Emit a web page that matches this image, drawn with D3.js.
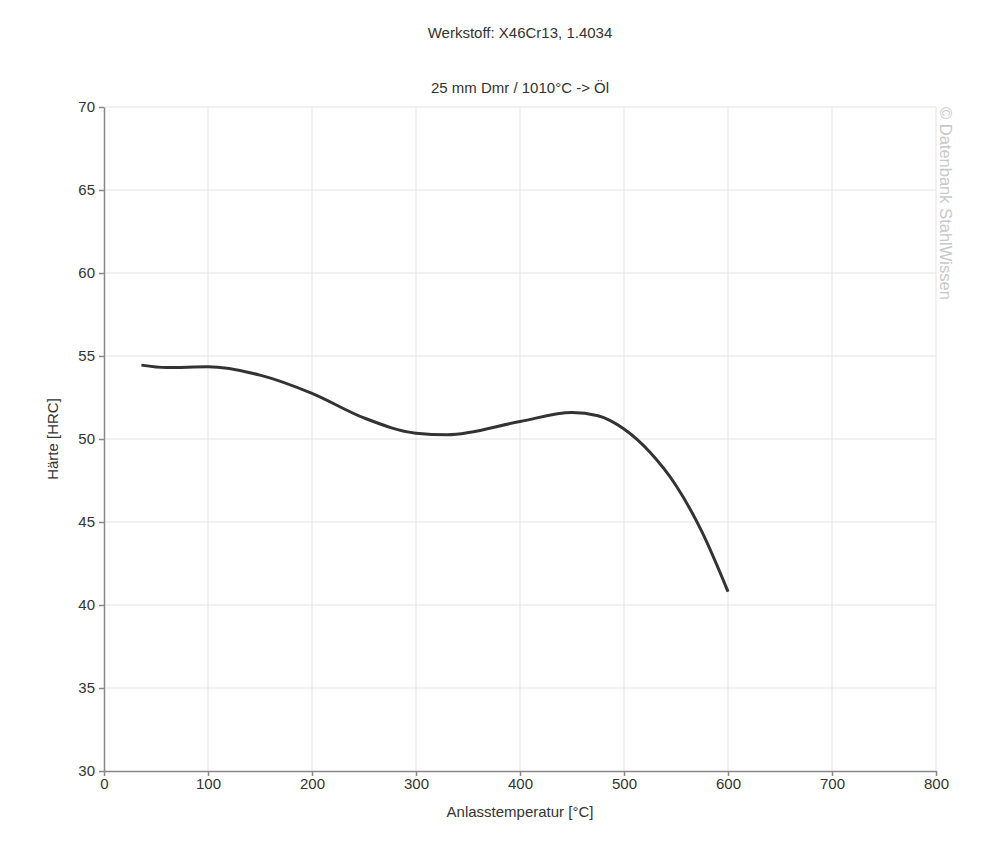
<!DOCTYPE html>
<html>
<head>
<meta charset="utf-8">
<script src="https://cdn.jsdelivr.net/npm/d3@7"></script>
<style>
  body { margin: 0; background: #fff; }
  text { font-family: "Liberation Sans", Arial, sans-serif; }
</style>
</head>
<body>
<div id="chart"></div>
<script>
// Anlasstemperatur [°C] vs Härte [HRC]
const temps = [36, 60, 100, 150, 200, 250, 300, 330, 400, 450, 475, 500, 525, 550, 575, 600];
const haerte = [54.45, 54.3, 54.35, 53.85, 52.75, 51.27, 50.35, 50.25, 51.05, 51.6, 51.4, 50.6, 49.2, 47.2, 44.4, 40.8];
const xTicks = [0, 100, 200, 300, 400, 500, 600, 700, 800];
const yTicks = [30, 35, 40, 45, 50, 55, 60, 65, 70];

const width = 1000, height = 849;
const margin = {top: 107, right: 64, bottom: 78, left: 104};

const svg = d3.select('#chart').append('svg')
  .attr('width', width)
  .attr('height', height);

const x = d3.scaleLinear().domain([0, 800]).range([margin.left, width - margin.right]);
const y = d3.scaleLinear().domain([30, 70]).range([height - margin.bottom, margin.top]);

// grid
svg.append('g')
  .selectAll('line')
  .data(xTicks.slice(1))
  .join('line')
  .attr('x1', d => x(d)).attr('x2', d => x(d))
  .attr('y1', y(30)).attr('y2', y(70))
  .attr('stroke', '#e3e3e3').attr('stroke-width', 1);

svg.append('g')
  .selectAll('line')
  .data(yTicks.slice(1))
  .join('line')
  .attr('x1', x(0)).attr('x2', x(800))
  .attr('y1', d => y(d)).attr('y2', d => y(d))
  .attr('stroke', '#e3e3e3').attr('stroke-width', 1);

// axes
function xAxis(g) {
  g.attr('transform', `translate(0,${y(30)})`)
   .call(d3.axisBottom(x).tickValues(xTicks).tickSize(5).tickSizeOuter(0))
   .attr('font-size', '15px')
   .attr('font-family', '"Liberation Sans", Arial, sans-serif');
  g.selectAll('.domain, line').attr('stroke', '#888').attr('stroke-width', 1.5);
  g.selectAll('text').attr('fill', '#333').attr('dy', '0.9em').attr('y', 4);
}
function yAxis(g) {
  g.attr('transform', `translate(${x(0)},0)`)
   .call(d3.axisLeft(y).tickValues(yTicks).tickSize(5).tickSizeOuter(0))
   .attr('font-size', '15px')
   .attr('font-family', '"Liberation Sans", Arial, sans-serif');
  g.selectAll('.domain, line').attr('stroke', '#888').attr('stroke-width', 1.5);
  g.selectAll('text').attr('fill', '#333').attr('x', -9);
}
svg.append('g').call(xAxis);
svg.append('g').call(yAxis);

// curve
const line = d3.line()
  .x((d, i) => x(temps[i]))
  .y(d => y(d))
  .curve(d3.curveMonotoneX);

svg.append('path')
  .datum(haerte)
  .attr('fill', 'none')
  .attr('stroke', '#333')
  .attr('stroke-width', 3)
  .attr('d', line);

// titles
svg.append('text')
  .attr('x', 520).attr('y', 38)
  .attr('text-anchor', 'middle')
  .attr('font-size', '15px').attr('fill', '#333')
  .text('Werkstoff: X46Cr13, 1.4034');

svg.append('text')
  .attr('x', 520).attr('y', 93)
  .attr('text-anchor', 'middle')
  .attr('font-size', '15px').attr('fill', '#333')
  .text('25 mm Dmr / 1010°C -> Öl');

svg.append('text')
  .attr('x', 520).attr('y', 817)
  .attr('text-anchor', 'middle')
  .attr('font-size', '15px').attr('fill', '#333')
  .text('Anlasstemperatur [°C]');

svg.append('text')
  .attr('transform', `translate(58,${(y(30) + y(70)) / 2}) rotate(-90)`)
  .attr('text-anchor', 'middle')
  .attr('font-size', '15px').attr('fill', '#333')
  .text('Härte [HRC]');

svg.append('text')
  .attr('transform', `translate(940,${margin.top}) rotate(90)`)
  .attr('text-anchor', 'start')
  .attr('font-size', '16.5px').attr('fill', '#c8c8c8')
  .text('© Datenbank StahlWissen');
</script>
</body>
</html>
